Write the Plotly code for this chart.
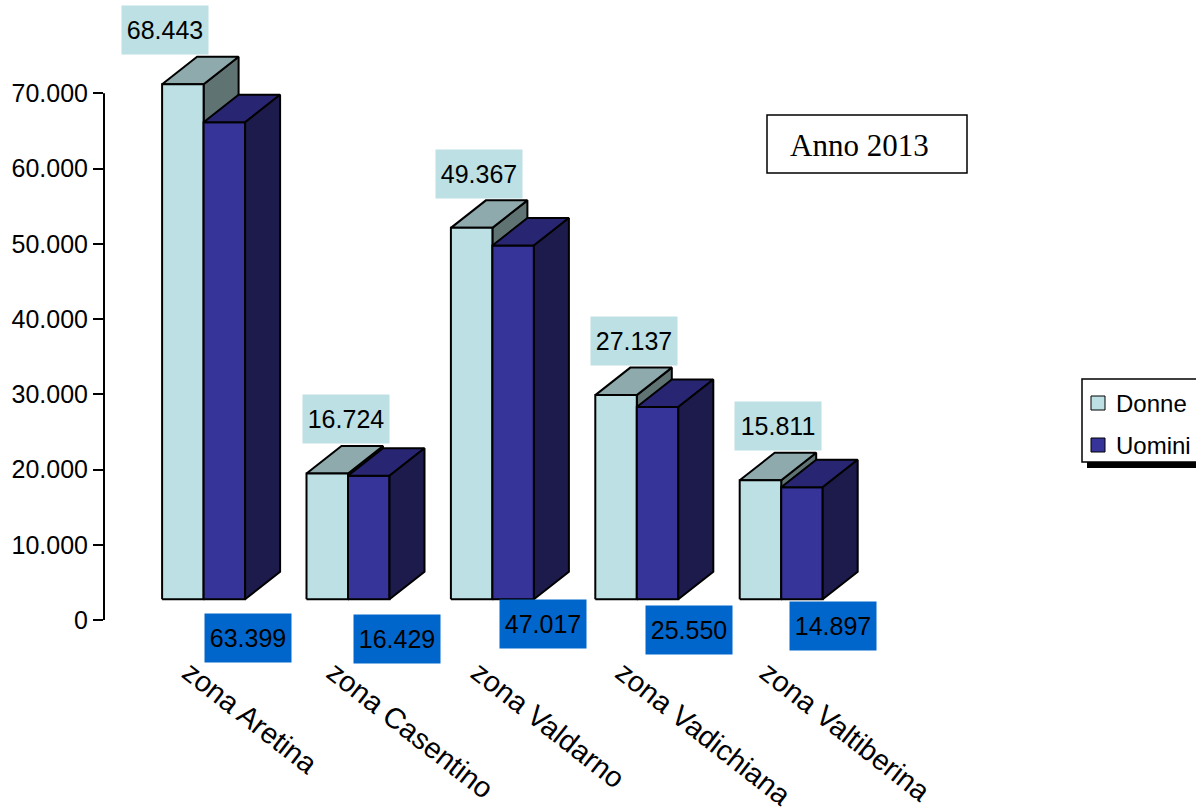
import plotly.graph_objects as go

# ---------------- data ----------------
categories = ["zona Aretina", "zona Casentino", "zona Valdarno", "zona Vadichiana", "zona Valtiberina"]
donne = [68443, 16724, 49367, 27137, 15811]
uomini = [63399, 16429, 47017, 25550, 14897]
series_names = ["Donne", "Uomini"]
y_ticks = [0, 10000, 20000, 30000, 40000, 50000, 60000, 70000]
chart_note = "Anno 2013"

# ---------------- layout geometry (pixels) ----------------
W, H = 1196, 811
L, R, T, B = 104, 100, 0, 191
PW, PH = W - L - R, H - T - B
YMAX = 82400
KY = PH / YMAX                 # px per y unit
SP = 144.4                     # px per category
C0 = 203.6                     # pixel centre of first category
XMIN = -(C0 - L) / SP
XMAX = XMIN + PW / SP

HALF_W = 41.5 / SP             # width of one bar (data units)
BASE = 20.7 / KY               # 3D floor offset (data units)
DX = 35.0 / SP                 # depth offset x
DY = 27.5 / KY                 # depth offset y

# label offsets (px) relative to category centre
donne_lab_dx = [-38.6, -2.0, -13.4, -2.8, -3.2]
uomini_lab_dx = [44.4, 48.5, 50.6, 52.2, 51.8]
uomini_lab_top = [613, 614, 599, 605, 601]

COL = {
    "Donne": {"front": "#BCE0E3", "top": "#8FAAAC", "side": "#5F7373"},
    "Uomini": {"front": "#363399", "top": "#282673", "side": "#1C1B4C"},
}
FONT = "Liberation Sans, Arial, sans-serif"


def faces(values, shift):
    fx, fy, tx, ty, sx, sy = [], [], [], [], [], []
    for i, v in enumerate(values):
        x0 = i + shift
        x1 = x0 + HALF_W
        b = BASE
        t = BASE + v
        fx += [x0, x1, x1, x0, x0, None]
        fy += [b, b, t, t, b, None]
        tx += [x0, x1, x1 + DX, x0 + DX, x0, None]
        ty += [t, t, t + DY, t + DY, t, None]
        sx += [x1, x1 + DX, x1 + DX, x1, x1, None]
        sy += [b, b + DY, t + DY, t, b, None]
    return (fx, fy), (tx, ty), (sx, sy)


fig = go.Figure()


def add_poly(xy, color):
    fig.add_trace(go.Scatter(
        x=xy[0], y=xy[1], mode="lines", fill="toself", fillcolor=color,
        line=dict(color="black", width=2), hoverinfo="skip", showlegend=False,
    ))


d_front, d_top, d_side = faces(donne, -HALF_W)
u_front, u_top, u_side = faces(uomini, 0)
add_poly(d_side, COL["Donne"]["side"])
add_poly(d_top, COL["Donne"]["top"])
add_poly(d_front, COL["Donne"]["front"])
add_poly(u_front, COL["Uomini"]["front"])
add_poly(u_top, COL["Uomini"]["top"])
add_poly(u_side, COL["Uomini"]["side"])


def fmt(v):
    return f"{v:,}".replace(",", ".")


annotations = []
for i, v in enumerate(donne):
    annotations.append(dict(
        x=i + donne_lab_dx[i] / SP, y=BASE + v + DY + 1.5 / KY, xref="x", yref="y",
        text=fmt(v), showarrow=False, xanchor="center", yanchor="bottom",
        bgcolor=COL["Donne"]["front"], width=86, height=48, borderpad=0,
        font=dict(family=FONT, size=25, color="black"),
    ))
for i, v in enumerate(uomini):
    annotations.append(dict(
        x=i + uomini_lab_dx[i] / SP, y=(PH + T - uomini_lab_top[i]) / KY,
        xref="x", yref="y",
        text=fmt(v), showarrow=False, xanchor="center", yanchor="top",
        bgcolor="#0066CC", width=86, height=48, borderpad=0,
        font=dict(family=FONT, size=25, color="black"),
    ))


def px_x(p):
    return (p - L) / PW


def px_y(p):
    return (T + PH - p) / PH


# "Anno 2013" box
annotations.append(dict(
    x=px_x(788), y=px_y(145), xref="paper", yref="paper", text=chart_note,
    showarrow=False, xanchor="left", yanchor="middle",
    font=dict(family="Liberation Serif, Times New Roman, serif", size=31, color="black"),
))

# legend texts
leg_rows = [403, 445]
for name, yy in zip(series_names, leg_rows):
    annotations.append(dict(
        x=px_x(1114), y=px_y(yy), xref="paper", yref="paper", text=name,
        showarrow=False, xanchor="left", yanchor="middle",
        font=dict(family=FONT, size=24, color="black"),
    ))

shapes = [
    # y axis line
    dict(type="line", xref="paper", yref="y", x0=0, x1=0, y0=0, y1=y_ticks[-1],
         line=dict(color="black", width=2)),
    # note box
    dict(type="rect", xref="paper", yref="paper", x0=px_x(767), x1=px_x(967),
         y0=px_y(173), y1=px_y(115), line=dict(color="black", width=1.5), fillcolor="white",
         layer="below"),
    # legend shadow
    dict(type="rect", xref="paper", yref="paper", x0=px_x(1087), x1=px_x(1220),
         y0=px_y(468), y1=px_y(384), line=dict(width=0), fillcolor="black"),
    # legend box
    dict(type="rect", xref="paper", yref="paper", x0=px_x(1082), x1=px_x(1215),
         y0=px_y(462), y1=px_y(379), line=dict(color="black", width=1.5), fillcolor="white"),
]
for name, yy in zip(series_names, leg_rows):
    shapes.append(dict(type="rect", xref="paper", yref="paper", x0=px_x(1091), x1=px_x(1105),
                       y0=px_y(yy + 7), y1=px_y(yy - 7),
                       line=dict(color="black", width=1), fillcolor=COL[name]["front"]))

fig.update_layout(
    width=W, height=H, autosize=False,
    margin=dict(l=L, r=R, t=T, b=B, pad=0),
    paper_bgcolor="white", plot_bgcolor="white",
    separators=",.",
    showlegend=False,
    annotations=annotations, shapes=shapes,
    xaxis=dict(
        range=[XMIN, XMAX], tickmode="array",
        tickvals=[i - 0.1 for i in range(len(categories))], ticktext=categories,
        tickangle=38, showgrid=False, zeroline=False, showline=False, ticks="",
        tickfont=dict(family=FONT, size=29, color="black"), ticklabelstandoff=29,
        fixedrange=True,
    ),
    yaxis=dict(
        range=[0, YMAX], tickmode="array", tickvals=y_ticks, tickformat=",d",
        showgrid=False, zeroline=False, showline=False,
        ticks="outside", ticklen=10, tickwidth=2, tickcolor="black",
        tickfont=dict(family=FONT, size=25, color="black"),
        fixedrange=True,
    ),
)

fig.write_html("out.html")
